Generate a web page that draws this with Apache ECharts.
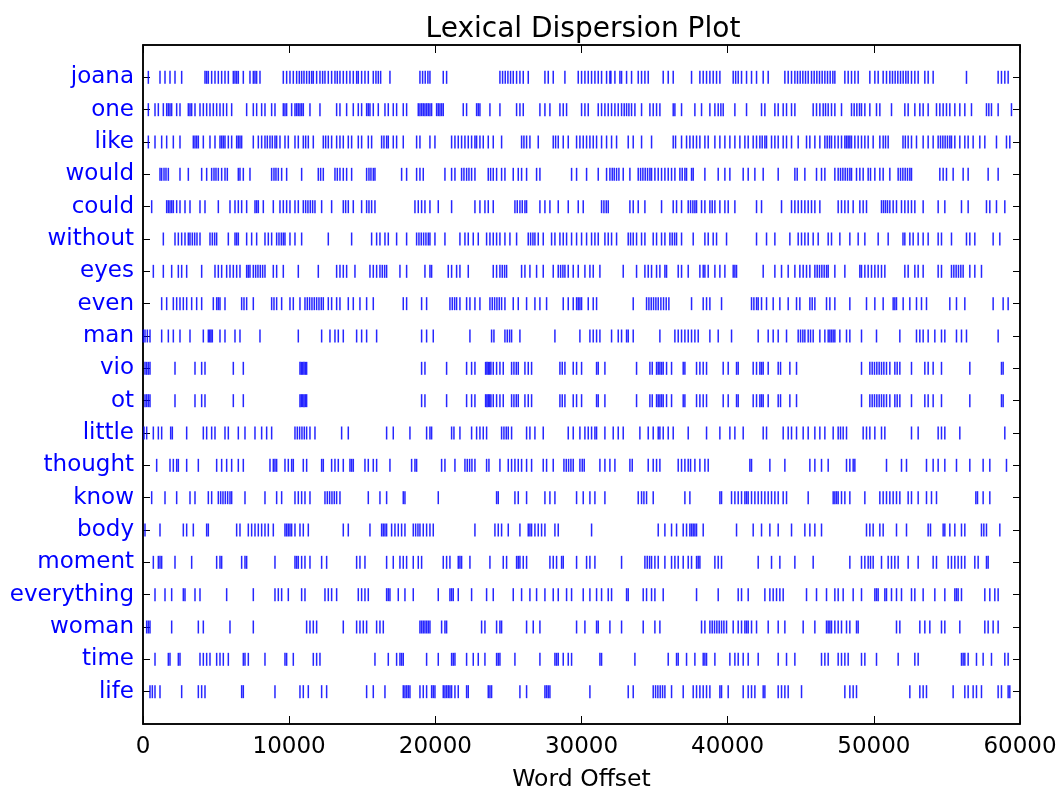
<!DOCTYPE html>
<html><head><meta charset="utf-8">
<script src="https://cdn.jsdelivr.net/npm/echarts@6/dist/echarts.min.js"></script>
<style>html,body{margin:0;padding:0;background:#fff}#c{width:1058px;height:791px}</style>
</head><body><div id="c"></div>
<script>
const words = ['joana','one','like','would','could','without','eyes','even','man','vio','ot','little','thought','know','body','moment','everything','woman','time','life'];
const xTicks = [0,10000,20000,30000,40000,50000,60000];

const joanaHits = [365,1163,1505,1847,2189,2645,4241,4355,4469,4697,4925,5153,5381,5609,5837,6179,6293,6407,6521,6863,7319,7547,7661,7775,8003,9599,9827,10055,10283,10511,10693,10853,11013,11195,11377,11537,11651,11879,12107,12289,12449,12677,12905,13133,13293,13475,13703,13931,14159,14387,14615,14729,14957,15185,15413,15755,15937,16097,16257,16895,18947,19129,19309,19491,19631,20543,20771,24419,24601,24783,24965,25147,25331,25559,25787,26015,26357,27497,27725,28067,28865,29777,30005,30233,30461,30689,30917,31145,31373,31715,31943,32011,32285,32627,32741,33083,33425,33881,34109,34337,34565,35591,35933,36275,37529,38099,38327,38555,38783,39011,39239,39467,40379,40545,40721,40949,41291,41633,41975,42431,42773,43913,44141,44369,44597,44779,44961,45143,45325,45509,45737,45919,46101,46283,46465,46649,46831,47013,47195,47333,48017,48245,48473,48701,48929,49727,50069,50297,50639,50867,51095,51277,51459,51641,51825,52007,52189,52349,52577,52805,53033,53489,53717,54059,56339,58505,58733,58961,59189];
const oneHits = [365,821,1049,1391,1619,1733,1847,1961,2303,2531,3101,3215,3329,3557,3899,4127,4355,4583,4811,5039,5267,5495,5723,6065,7091,7547,7775,8117,8345,8801,9029,9599,9713,9827,10169,10397,10511,10625,10739,10853,10967,11423,12107,13247,13475,13931,14387,14729,14957,15299,15413,15527,15755,16097,16553,16781,17123,17351,17807,18035,18833,18947,19061,19175,19289,19403,19517,19631,19745,20087,20201,20315,20429,20543,21911,22139,22823,22937,23051,23735,24419,25559,25787,26015,27155,27497,27839,28523,28751,28979,30005,30233,30461,31145,31373,31601,31829,32057,32285,32513,32741,32923,33083,33243,33425,33653,34109,34679,34907,35135,35363,36275,36389,36845,37757,38213,38783,39125,39353,39535,39695,40493,41291,42317,42545,43229,43457,43799,44027,44369,44597,45851,46079,46307,46535,46695,46877,47105,47333,47789,48473,48655,48837,49019,49157,49385,49727,50183,50411,51209,52121,52349,52805,53147,53375,53717,54287,54515,54743,54971,55199,55541,55883,56225,56681,57707,57867,58049,58505,59417];
const likeHits = [365,821,1277,1619,2075,2531,3443,3557,3671,3785,4127,4583,4925,5267,5381,5495,5609,5837,6065,6407,6521,6635,6749,7547,7889,8117,8345,8505,8687,8847,9029,9143,9371,9713,9941,10397,10625,10967,11127,11309,11651,12335,12495,12677,12905,13247,13475,13703,14045,14273,14729,14957,15413,15641,16325,16485,16667,16781,17123,17351,17807,18719,18947,19631,19973,21113,21341,21569,21797,22025,22253,22481,22709,22823,23051,23279,23621,23963,24533,25901,26061,26243,26471,27041,28067,28227,28409,28751,29093,29663,29891,30119,30347,30575,30803,31031,31373,31715,32057,32399,33197,33539,34109,34793,36275,36435,36845,37187,37415,37643,37871,38099,38441,38669,39125,39467,39809,40151,40493,40835,41177,41405,41747,41975,42203,42363,42545,42659,43001,43229,43457,43799,44027,44369,44825,45395,45623,45965,46307,46649,46809,46967,47105,47333,47561,47789,48017,48131,48245,48359,48473,48701,48929,49157,49385,49613,49955,50411,50639,50799,50981,51995,52155,52349,52577,52919,53375,53717,54059,54401,54561,54721,54879,55039,55199,55313,55541,55883,56225,56453,56795,57251,57593,58391,59075,59303];
const wouldHits = [1163,1277,1437,1573,1733,2531,3101,4013,4355,4697,4857,4993,5153,5381,5609,5769,6521,6635,6863,7319,8801,8961,9097,9257,9485,9827,10853,11993,12153,12335,13133,13293,13475,13703,13931,14273,15299,15459,15595,15755,15869,17693,18035,18719,18947,19175,20657,21113,21341,21797,21957,22139,22299,22481,22709,23621,23781,23963,24191,24533,24761,25331,25673,25901,26243,26927,27155,29321,29663,30347,31145,31715,31943,32103,32239,32399,32559,32855,33311,33881,34041,34199,34359,34519,34679,34793,35021,35249,35477,35705,35933,36161,36389,36731,36891,37073,37187,37529,37643,38441,39353,39809,40151,41063,41405,41861,42431,43457,44597,44757,45281,46079,46421,46649,47333,47561,47721,47881,48041,48199,48359,48473,48815,49043,49271,49613,49773,50069,50411,50639,51095,51665,51825,51985,52145,52303,52463,52577,54515,54743,54971,55427,56111,56453,57821,58505];
const couldHits = [593,1619,1733,1847,1961,2075,2303,2531,2873,3215,3899,4241,5153,5951,6293,6521,6749,7091,7661,7775,7889,8231,8915,9371,9599,9827,10055,10397,10625,10967,11127,11285,11445,11605,11765,12221,12905,13703,13863,14045,14387,14957,15299,15459,15641,15869,18605,18833,19061,19289,19631,20201,21113,22709,23051,23393,23621,23963,25445,25605,25787,25947,26129,26243,27155,27497,27839,28409,29093,29777,30119,31373,31533,31693,31829,33311,33539,33881,34337,35477,36275,36503,36845,37301,37461,37619,37757,37871,38213,38441,38783,38943,39125,39467,39809,40037,40493,41975,42317,43685,44369,44597,44825,45053,45281,45509,45737,45965,46307,47561,47789,48017,48245,48587,49043,49271,49499,50525,50663,50799,50937,51095,51323,51551,51893,52121,52349,52577,52805,53375,54401,54857,55997,56453,57707,57935,58391,58961];
const withoutHits = [1391,2189,2417,2645,2873,3101,3215,3375,3535,3693,3899,4583,4743,4901,5039,5837,6293,6407,6521,7091,7433,7775,8345,8573,8801,9143,9303,9463,9599,9713,10055,10397,10853,12677,14273,15641,15983,16211,16553,16781,17351,18035,18719,18879,19037,19197,19357,19517,19631,19973,20657,21683,22025,22253,22595,22937,23507,23735,23963,24191,24419,24761,25103,25559,26357,26517,26677,26813,27041,27383,27953,28181,28523,28751,28979,29321,29663,30005,30347,30689,30917,31145,31601,31829,32057,32399,33197,33357,33539,33767,34109,34337,34907,35135,35477,35705,36047,36207,36367,36503,36845,37643,38441,38669,39011,39239,39923,41975,42659,43229,44255,44825,45053,45281,45509,45851,46193,46877,47105,47675,48359,48929,49385,50297,50981,51995,52121,52463,52691,53033,53375,53717,54401,54629,55313,56339,56567,56909,58163,58619];
const eyesHits = [707,1391,1961,2417,2645,2987,4013,4925,5153,5381,5723,5951,6179,6407,6635,7091,7205,7319,7547,7707,7865,8025,8185,8345,8915,9143,9599,10625,11993,13247,13475,13703,13931,14501,15527,15755,15983,16211,16371,16531,16667,17579,18035,19289,19631,19745,20885,21113,21455,21683,22253,23963,24191,24419,24579,24737,24875,25901,26129,26471,26927,27383,28067,28409,28569,28727,28865,29093,29435,29777,30233,30575,30803,31259,32855,33767,34337,34565,34793,35135,35363,35705,35819,36617,36845,37301,38099,38327,38441,38669,39125,39467,39809,40379,40493,40607,42431,43229,43685,44141,44597,44939,45167,45395,45623,45965,46125,46283,46443,46603,46763,46877,47333,48017,49043,49157,49385,49613,49841,50069,50297,50525,50753,52121,52349,52805,53033,53375,54401,54629,55313,55473,55631,55791,55951,56111,56567,56909,57365];
const evenHits = [1277,1619,2075,2303,2531,2759,2987,3329,3671,4013,4811,5039,5153,5267,5609,6749,6909,7091,7547,8801,8961,9143,9485,10055,10283,10739,11081,11241,11399,11559,11719,11879,12039,12197,12335,12677,12905,13247,13475,14045,14387,14843,15299,15755,17807,18035,19061,19403,20999,21159,21317,21455,21683,22139,22367,22709,23051,23735,23895,24055,24213,24373,24533,24761,25331,25673,26243,26813,27155,27611,28751,29093,29435,29663,29777,29891,30005,30461,30803,31031,33539,34451,34611,34771,34929,35089,35249,35431,35613,35795,35977,37529,38327,38555,38783,39581,41633,41793,41975,42089,42317,42659,43115,43571,44141,44711,44939,45623,45783,45965,46763,46991,47333,48359,49499,50069,50639,51323,51437,51551,52007,52463,52919,53261,53603,55199,55655,56225,58163,58847,59189];
const manHits = [23,137,297,479,1277,1733,2075,2531,3215,4127,4469,4561,4651,4743,5267,5609,6293,6635,8003,10625,12221,12791,13133,13361,13703,14615,14957,15299,15983,19061,19403,19859,22367,23849,24009,24761,24921,25079,25217,25787,28181,29891,30575,30803,31031,31259,32057,32513,32741,33083,33197,33539,35363,36389,36617,36845,37073,37301,37529,37757,37985,38783,39353,40265,42089,42773,43115,43457,44027,44825,44985,45143,45281,45509,45669,45851,46307,46649,46877,46991,47105,47219,47333,47675,48131,48359,49157,50183,51779,52919,53147,53375,53717,54173,54629,54857,55655,55997,56339,58505];
const vioHits = [137,251,365,479,2189,3557,4013,4241,6179,6863,10739,10831,10921,11013,11103,11195,19061,19289,20771,22139,22481,22709,23439,23531,23621,23713,23803,23963,24191,24419,24647,25217,25377,25537,25673,26129,26357,26585,28523,28683,28865,29435,29663,30005,31031,31145,31601,33767,34679,34839,35135,35249,35363,35477,35591,35819,36161,36959,37073,37871,38099,38327,38555,39695,40037,40607,40721,41747,41975,42203,42317,42431,42773,43457,43617,44255,44711,49157,49727,49887,50045,50205,50365,50525,50685,50867,51095,51437,51597,51779,52577,53489,53717,54059,54629,56567,58733,58847];
const otHits = [137,251,365,479,2189,3557,4013,4241,6179,6863,10739,10831,10921,11013,11103,11195,19061,19289,20771,22139,22481,22709,23439,23531,23621,23713,23803,23963,24191,24419,24647,25217,25377,25537,25673,26129,26357,26585,28523,28683,28865,29435,29663,30005,31031,31145,31601,33767,34679,34839,35135,35249,35363,35477,35591,35819,36161,36959,37073,37871,38099,38327,38555,39695,40037,40607,40721,41747,41975,42203,42317,42431,42773,43457,43617,44255,44711,49157,49727,49887,50045,50205,50365,50525,50685,50867,51095,51437,51597,51779,52577,53489,53717,54059,54629,56567,58733,58847];
const littleHits = [69,251,707,1049,1277,1893,2007,2987,4127,4355,4697,4925,5609,5837,6521,6977,7661,8117,8459,8801,10397,10557,10715,10875,11035,11195,11423,11765,13589,14045,16667,17123,18263,19403,19631,19745,21113,21273,21683,22481,22823,23051,23279,23507,24533,24693,24851,24989,25217,26243,26471,26813,27383,29093,29435,29891,30233,30461,30689,30917,31031,31601,32171,32513,32855,33995,34565,34907,35249,35363,35591,35933,36275,37301,38555,39467,40151,40493,41063,42431,42659,43799,44141,44369,44711,45167,45509,45965,46307,46649,47219,47561,47721,47903,48131,49271,49499,49727,50069,50525,50753,52577,53033,54401,54629,54857,55883,58961];
const thoughtHits = [935,1847,2075,2303,2417,2987,3785,5039,5381,5723,6065,6521,6863,8687,8915,9029,9143,9713,9941,10169,10283,10967,11195,12221,12335,12905,13133,13361,13703,14159,14273,14387,15185,15413,15755,15983,16895,18377,18605,18719,20429,20657,21341,22025,22185,22343,22503,22709,23507,23667,24419,24989,25217,25445,25673,25901,26243,26585,27383,27611,28067,28797,28957,29115,29275,29435,29891,30051,30187,31259,31601,31943,32285,33311,33471,34565,34907,35135,35363,36617,36845,37073,37301,37461,37757,38099,38441,38669,41519,41633,42887,43913,45623,45965,46421,46877,48131,48359,48587,48701,50867,51893,52235,53603,54059,54401,54857,55655,56567,57479,57935,59075];
const knowHits = [593,1505,2303,3215,3557,4469,4697,5153,5313,5471,5631,5791,5951,6065,6977,8345,9143,9485,10397,10625,10853,11081,11423,12449,12609,12767,12927,13087,13247,13475,15413,16211,16667,17807,17921,20201,24191,24305,25445,25673,26243,27497,27839,28181,29663,30119,30575,30917,31601,33881,34109,34269,34451,34907,37073,37415,39467,39581,40265,40493,40721,40949,41177,41291,41405,41633,41861,42089,42317,42545,42773,43001,43229,43457,43799,44027,45509,47219,47333,47447,47561,47789,48017,48359,49385,50411,50639,50867,51095,51323,51551,51779,52349,52577,53033,53603,53945,54287,56979,57093,57479,57935];
const bodyHits = [137,1163,2759,2987,3443,4355,4469,6407,6635,7205,7433,7661,7889,8117,8345,8573,8915,9713,9827,9941,10055,10169,10397,10739,10967,11309,13703,14045,15527,16325,16439,16553,16667,17009,17237,17465,17693,17921,18491,18651,18811,18947,19175,19403,19631,19859,22709,24077,24305,24533,24989,25787,26357,26471,26585,26813,27041,27269,27497,28181,28409,30689,35249,35705,36161,36503,36959,37187,37415,37529,37643,37757,37871,38327,40607,41747,42317,42887,43457,44369,45281,45623,45965,46421,49499,49727,49955,50411,50639,51551,52235,53717,53877,54743,54857,55199,55541,55997,56225,57365,57525,57707,58619];
const momentHits = [707,1049,1163,1277,2189,3329,5039,5267,5381,6749,6977,7091,9029,10397,10511,10625,10853,11081,11423,12221,12563,14615,14843,15185,16667,17123,17579,17807,18035,18491,18833,19061,20543,20771,20999,21569,21683,21797,22367,23735,24647,24875,25559,25673,25787,26015,26243,27839,28067,28295,28637,28751,29663,30347,30575,30917,32741,34337,34497,34655,34793,35021,35249,35705,36161,36389,36617,36959,37301,37529,37871,37985,38099,39125,39353,39581,42089,43001,43571,44597,45851,48359,49157,49385,49613,49773,49955,50525,50981,51209,51437,51665,52349,53033,54059,54287,55085,55313,55541,55769,55997,56225,56909,57137,57707,57821];
const everythingHits = [821,1505,1961,2759,2873,3557,3899,5723,7547,9029,9257,9485,9941,10853,11081,12449,12677,12905,13247,14729,14957,15185,15413,16667,16781,16895,17465,17921,18491,20201,20999,21113,21227,21569,22481,23507,23963,25331,25901,26471,26927,27497,28067,28409,28979,29321,30119,30575,31031,31373,31829,32057,33083,33197,34223,34451,34793,35021,35591,37871,39353,40721,40949,41405,42545,42887,43115,43343,43571,43799,45395,46079,46763,47333,47561,47903,48587,49157,50069,50183,50297,50753,50867,51209,51551,51893,52577,52805,53375,54173,54857,55541,55655,55769,55997,57593,57935,58277,58505];
const womanHits = [251,365,479,1961,3785,4127,5951,7547,11195,11423,11651,11879,13703,14615,14843,15071,15299,15983,16211,16439,18947,19061,19175,19289,19403,19517,19631,20429,20657,20771,23165,23393,24191,24419,24533,26243,26699,27155,29663,30233,31031,31145,31943,32741,34223,35021,35363,38213,38441,38783,38943,39101,39261,39421,39581,39741,39923,40379,40721,40949,41177,41291,41405,41633,41975,42773,43457,43913,45167,45965,46763,46877,46991,47105,47333,47561,47789,48131,48359,48815,48929,51551,51779,53147,53489,53831,54629,54857,55883,57593,57821,58163,58505];
const timeHits = [821,1733,1847,2417,2531,3899,4127,4355,4583,5039,5267,5495,5837,6863,6977,7205,8345,9713,9827,10283,11651,11879,12107,15869,16781,17351,17579,17693,17807,19403,20201,21113,21227,21341,22139,22595,22937,23393,24191,24305,24419,25445,27155,28181,28295,28409,28751,29093,29321,31259,31373,33653,35933,36503,36617,37187,37757,38327,38441,38555,39125,40151,40493,40721,41063,41405,42089,43457,44027,44597,46421,46649,46877,47561,47789,48017,48245,49157,49385,50183,51665,52805,53033,55997,56111,56225,56453,57023,57479,58049,58961,59189];
const lifeHits = [479,639,821,1163,2645,3785,4013,4241,6749,6863,9029,10739,10967,11309,12221,12563,15299,15755,16553,17807,17921,18035,18149,18263,18947,19175,19403,19745,19859,19973,20543,20657,20771,20885,20999,21113,21341,21569,22139,22253,23621,23735,23849,25787,26243,27497,27611,27725,27839,30575,33197,33539,34907,35067,35225,35385,35545,35705,36161,36959,37643,37871,38099,38327,38555,38783,39467,39581,40037,41063,41405,41633,41861,42431,42545,43457,43685,43913,44141,45053,48017,48359,48587,48815,52463,53147,53375,53603,55427,56225,56453,56795,57023,57365,58505,58733,59189,59303];

const hitLists = [joanaHits,oneHits,likeHits,wouldHits,couldHits,withoutHits,eyesHits,evenHits,manHits,vioHits,otHits,littleHits,thoughtHits,knowHits,bodyHits,momentHits,everythingHits,womanHits,timeHits,lifeHits];

const n = words.length;
const rowValues = words.map((w, i) => n - 1 - i);
const points = [];
hitLists.forEach((list, i) => {
  list.forEach(x => points.push([x, rowValues[i]]));
});
const labelFor = v => {
  const i = n - 1 - Math.round(v);
  return (i >= 0 && i < n) ? words[i] : '';
};

const font = 'DejaVu Sans';
const chart = echarts.init(document.getElementById('c'), null, {renderer: 'canvas'});
const lineStyle = {color: '#000', width: 1.5};
const yBase = {
  type: 'value', min: -1, max: n, interval: 1,
  splitLine: {show: false},
  axisLine: {show: true, onZero: false, lineStyle: lineStyle},
};
const xBase = {
  type: 'value', min: xTicks[0], max: xTicks[xTicks.length - 1], interval: xTicks[1] - xTicks[0],
  axisLine: {show: true, onZero: false, lineStyle: lineStyle},
  axisTick: {show: true, inside: true, length: 8, lineStyle: {color: '#000'}},
  splitLine: {show: false}
};
chart.setOption({
  animation: false,
  backgroundColor: '#fff',
  title: {
    text: 'Lexical Dispersion Plot', left: 578, top: 11, textAlign: 'center',
    textStyle: {fontFamily: font, fontSize: 28, fontWeight: 'normal', color: '#000'}
  },
  grid: {left: 143, right: 38, top: 45, bottom: 67, outerBoundsMode: 'none', containLabel: false, show: true, borderColor: '#000', borderWidth: 1.5, backgroundColor: '#fff'},
  xAxis: [Object.assign({}, xBase, {
    position: 'bottom',
    name: 'Word Offset', nameLocation: 'middle', nameGap: 44,
    nameTextStyle: {fontFamily: font, fontSize: 23.5, color: '#000'},
    axisLabel: {fontFamily: font, fontSize: 23, color: '#000', margin: 12, formatter: v => String(v)}
  }), Object.assign({}, xBase, {
    position: 'top',
    axisLabel: {show: false}
  })],
  yAxis: [Object.assign({}, yBase, {
    position: 'left',
    axisTick: {show: true, inside: true, length: 7, customValues: rowValues, lineStyle: {color: '#000'}},
    axisLabel: {fontFamily: font, fontSize: 23, color: '#0000ff', margin: 9, customValues: rowValues, formatter: labelFor}
  }), Object.assign({}, yBase, {
    position: 'right',
    axisTick: {show: true, inside: true, length: 7, customValues: rowValues, lineStyle: {color: '#000'}},
    axisLabel: {show: false}
  })],
  series: [{
    type: 'scatter', xAxisIndex: 0, yAxisIndex: 0,
    symbol: 'rect', symbolSize: [1.5, 13],
    itemStyle: {color: '#0000ff', opacity: 0.85},
    data: points, silent: true
  }]
});
</script></body></html>
